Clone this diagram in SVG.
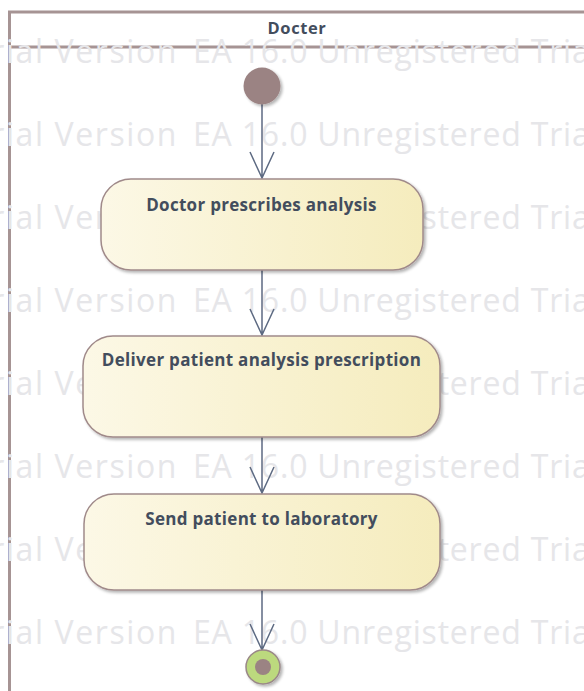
<svg xmlns="http://www.w3.org/2000/svg" width="584" height="691" viewBox="0 0 584 691">
  <style>
    .wm { font-family: "Open Sans", "DejaVu Sans", sans-serif; font-size: 32px; letter-spacing: 0.8px; fill: #e6e6e9; }
    .wm1 { letter-spacing: 1.6px; }
    .lbl { font-family: "Open Sans", "Liberation Sans", sans-serif; font-weight: bold; font-size: 17px; letter-spacing: 0.3px; fill: #434d5d; text-anchor: middle; }
    .hdr { font-family: "Open Sans", "Liberation Sans", sans-serif; font-weight: bold; font-size: 16.5px; letter-spacing: 0.6px; fill: #434d5d; text-anchor: middle; }
    .act { fill: url(#actFill); stroke: #a08a8a; stroke-width: 1.5; filter: url(#shadow); }
    .flow { stroke: #5d6a82; stroke-width: 1.5; fill: none; }
  </style>
  <defs>
    <linearGradient id="actFill" x1="0" y1="0" x2="1" y2="0">
      <stop offset="0" stop-color="#fcf8e6"/>
      <stop offset="1" stop-color="#f5ecbd"/>
    </linearGradient>
    <filter id="shadow" x="-10%" y="-10%" width="125%" height="130%">
      <feGaussianBlur in="SourceAlpha" stdDeviation="1.5"/>
      <feOffset dx="2" dy="2" result="b"/>
      <feComponentTransfer><feFuncA type="linear" slope="0.3"/></feComponentTransfer>
      <feMerge><feMergeNode/><feMergeNode in="SourceGraphic"/></feMerge>
    </filter>
  </defs>

  <rect width="584" height="691" fill="#ffffff"/>

  <!-- swimlane frame -->
  <g id="lane">
    <rect x="9.5" y="12" width="590" height="700" fill="none" stroke="#a69494" stroke-width="3"/>
    <line x1="9.5" y1="47" x2="584" y2="47" stroke="#a69494" stroke-width="3"/>
    <text class="hdr" x="297" y="34">Docter</text>
  </g>

  <!-- watermark rows -->
  <g id="watermark" class="wm">
    <text y="63"><tspan class="wm1" x="-28">Trial Version</tspan><tspan x="193">EA 16.0 Unregistered Trial</tspan></text>
    <text y="146"><tspan class="wm1" x="-28">Trial Version</tspan><tspan x="193">EA 16.0 Unregistered Trial</tspan></text>
    <text y="229"><tspan class="wm1" x="-28">Trial Version</tspan><tspan x="193">EA 16.0 Unregistered Trial</tspan></text>
    <text y="312"><tspan class="wm1" x="-28">Trial Version</tspan><tspan x="193">EA 16.0 Unregistered Trial</tspan></text>
    <text y="395"><tspan class="wm1" x="-28">Trial Version</tspan><tspan x="193">EA 16.0 Unregistered Trial</tspan></text>
    <text y="478"><tspan class="wm1" x="-28">Trial Version</tspan><tspan x="193">EA 16.0 Unregistered Trial</tspan></text>
    <text y="561"><tspan class="wm1" x="-28">Trial Version</tspan><tspan x="193">EA 16.0 Unregistered Trial</tspan></text>
    <text y="644"><tspan class="wm1" x="-28">Trial Version</tspan><tspan x="193">EA 16.0 Unregistered Trial</tspan></text>
  </g>

  <!-- control flows -->
  <g id="connectors">
    <path class="flow" d="M262,104 V178 M250,152 L262,178 L274,152"/>
    <path class="flow" d="M262,270 V335 M250,309 L262,335 L274,309"/>
    <path class="flow" d="M262,437 V493 M250,467 L262,493 L274,467"/>
    <path class="flow" d="M262,590 V650 M250,624 L262,650 L274,624"/>
  </g>

  <g id="start">
    <circle cx="262" cy="86" r="18.5" fill="#9b8383" filter="url(#shadow)"/>
  </g>

  <g id="prescribe">
    <rect class="act" x="101" y="179" width="322" height="91" rx="30"/>
    <text class="lbl" x="261.5" y="211">Doctor prescribes analysis</text>
  </g>

  <g id="deliver">
    <rect class="act" x="83" y="336" width="357" height="101" rx="30"/>
    <text class="lbl" x="261.5" y="366">Deliver patient analysis prescription</text>
  </g>

  <g id="send">
    <rect class="act" x="84" y="494" width="356" height="96" rx="30"/>
    <text class="lbl" x="261.5" y="525">Send patient to laboratory</text>
  </g>

  <g id="final">
    <circle cx="263" cy="667" r="17" fill="#bcd97e" stroke="#9a8888" stroke-width="1.5" filter="url(#shadow)"/>
    <circle cx="263" cy="667" r="8" fill="#9b8383"/>
  </g>
</svg>
